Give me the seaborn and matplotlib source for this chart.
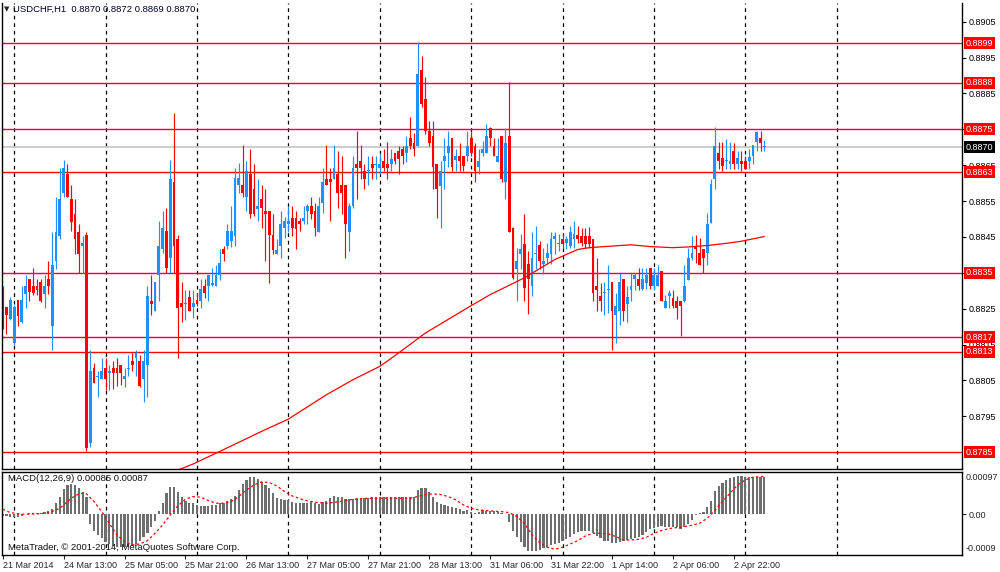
import numpy as np
import pandas as pd
import seaborn as sns
import matplotlib.pyplot as plt
from matplotlib.transforms import blended_transform_factory

# =====================================
# DATA
# =====================================

opens = [
    0.88257, 0.88255, 0.88221, 0.88154, 0.88273, 0.88214, 0.88292, 0.88333, 0.88313, 0.88313,
    0.88324, 0.88292, 0.88333, 0.88203, 0.88382, 0.88452, 0.88573, 0.88624, 0.88555, 0.88515,
    0.88464, 0.88424, 0.88454, 0.87875, 0.88084, 0.88060, 0.88054, 0.88084, 0.88070, 0.88084,
    0.88084, 0.88094, 0.88054, 0.88082, 0.88103, 0.88112, 0.88103, 0.88054, 0.88094, 0.88272,
    0.88243, 0.88345, 0.88415, 0.88466, 0.88392, 0.88603, 0.88443, 0.88266, 0.88264, 0.88283,
    0.88255, 0.88273, 0.88271, 0.88313, 0.88313, 0.88317, 0.88313, 0.88345, 0.88415, 0.88424,
    0.88438, 0.88452, 0.88594, 0.88594, 0.88562, 0.88624, 0.88584, 0.88527, 0.88555, 0.88522,
    0.88522, 0.88454, 0.88401, 0.88424, 0.88476, 0.88485, 0.88503, 0.88503, 0.88494, 0.88494,
    0.88522, 0.88536, 0.88522, 0.88463, 0.88545, 0.88612, 0.88612, 0.88612, 0.88624, 0.88594,
    0.88594, 0.88463, 0.88536, 0.88652, 0.88662, 0.88634, 0.88634, 0.88652, 0.88651, 0.88643,
    0.88662, 0.88652, 0.88652, 0.88685, 0.88690, 0.88695, 0.88685, 0.88726, 0.88713, 0.88704,
    0.88914, 0.88834, 0.88746, 0.88732, 0.88653, 0.88592, 0.88662, 0.88685, 0.88726, 0.88664,
    0.88676, 0.88676, 0.88676, 0.88726, 0.88704, 0.88644, 0.88685, 0.88685, 0.88753, 0.88704,
    0.88658, 0.88732, 0.88602, 0.88732, 0.88474, 0.88360, 0.88402, 0.88431, 0.88374, 0.88313,
    0.88402, 0.88427, 0.88374, 0.88392, 0.88402, 0.88443, 0.88429, 0.88443, 0.88434, 0.88425,
    0.88443, 0.88455, 0.88453, 0.88453, 0.88452, 0.88443, 0.88313, 0.88285, 0.88294, 0.88303,
    0.88324, 0.88233, 0.88243, 0.88333, 0.88264, 0.88303, 0.88333, 0.88333, 0.88305, 0.88322,
    0.88364, 0.88313, 0.88313, 0.88354, 0.88252, 0.88285, 0.88280, 0.88271, 0.88271, 0.88271,
    0.88331, 0.88392, 0.88424, 0.88406, 0.88415, 0.88406, 0.88489, 0.88610, 0.88685, 0.88671,
    0.88662, 0.88652, 0.88690, 0.88652, 0.88662, 0.88662, 0.88662, 0.88676, 0.88715, 0.88727,
    0.88700,
]
highs = [
    0.88313, 0.88255, 0.88283, 0.88261, 0.88273, 0.88313, 0.88345, 0.88333, 0.88363, 0.88333,
    0.88333, 0.88345, 0.88384, 0.88464, 0.88562, 0.88643, 0.88664, 0.88654, 0.88594, 0.88555,
    0.88485, 0.88452, 0.88464, 0.88134, 0.88098, 0.88075, 0.88112, 0.88112, 0.88094, 0.88103,
    0.88112, 0.88094, 0.88084, 0.88122, 0.88126, 0.88134, 0.88122, 0.88134, 0.88313, 0.88345,
    0.88324, 0.88494, 0.88522, 0.88531, 0.88664, 0.88795, 0.88454, 0.88324, 0.88303, 0.88303,
    0.88303, 0.88294, 0.88333, 0.88333, 0.88345, 0.88364, 0.88373, 0.88415, 0.88424, 0.88485,
    0.88536, 0.88643, 0.88657, 0.88705, 0.88662, 0.88694, 0.88652, 0.88612, 0.88594, 0.88584,
    0.88522, 0.88515, 0.88443, 0.88522, 0.88506, 0.88536, 0.88536, 0.88522, 0.88503, 0.88536,
    0.88543, 0.88562, 0.88545, 0.88562, 0.88643, 0.88705, 0.88643, 0.88705, 0.88690, 0.88676,
    0.88594, 0.88545, 0.88676, 0.88745, 0.88705, 0.88652, 0.88676, 0.88676, 0.88676, 0.88685,
    0.88694, 0.88715, 0.88694, 0.88685, 0.88704, 0.88704, 0.88732, 0.88783, 0.88741, 0.88993,
    0.88955, 0.88895, 0.88772, 0.88772, 0.88653, 0.88662, 0.88726, 0.88746, 0.88726, 0.88695,
    0.88713, 0.88676, 0.88746, 0.88746, 0.88713, 0.88695, 0.88716, 0.88765, 0.88755, 0.88726,
    0.88726, 0.88732, 0.88753, 0.88881, 0.88478, 0.88420, 0.88457, 0.88513, 0.88411, 0.88465,
    0.88481, 0.88439, 0.88420, 0.88434, 0.88465, 0.88465, 0.88457, 0.88457, 0.88453, 0.88481,
    0.88495, 0.88481, 0.88476, 0.88476, 0.88478, 0.88443, 0.88392, 0.88322, 0.88324, 0.88373,
    0.88324, 0.88294, 0.88350, 0.88333, 0.88313, 0.88350, 0.88350, 0.88364, 0.88364, 0.88364,
    0.88364, 0.88364, 0.88373, 0.88354, 0.88289, 0.88303, 0.88303, 0.88285, 0.88271, 0.88373,
    0.88420, 0.88452, 0.88454, 0.88448, 0.88415, 0.88517, 0.88612, 0.88755, 0.88715, 0.88715,
    0.88724, 0.88715, 0.88713, 0.88690, 0.88690, 0.88676, 0.88694, 0.88705, 0.88745, 0.88745,
    0.88720,
]
lows = [
    0.88192, 0.88178, 0.88219, 0.88150, 0.88203, 0.88210, 0.88252, 0.88271, 0.88289, 0.88289,
    0.88268, 0.88252, 0.88292, 0.88134, 0.88361, 0.88443, 0.88562, 0.88562, 0.88466, 0.88401,
    0.88350, 0.88350, 0.87852, 0.87864, 0.88043, 0.88004, 0.88054, 0.88024, 0.88024, 0.88026,
    0.88033, 0.88038, 0.88031, 0.88061, 0.88075, 0.88061, 0.88031, 0.87991, 0.88004, 0.88233,
    0.88243, 0.88271, 0.88404, 0.88350, 0.88350, 0.88350, 0.88112, 0.88212, 0.88219, 0.88243,
    0.88224, 0.88257, 0.88252, 0.88280, 0.88271, 0.88313, 0.88313, 0.88331, 0.88382, 0.88415,
    0.88422, 0.88424, 0.88573, 0.88562, 0.88522, 0.88503, 0.88508, 0.88494, 0.88476, 0.88382,
    0.88322, 0.88401, 0.88401, 0.88392, 0.88448, 0.88464, 0.88452, 0.88415, 0.88466, 0.88485,
    0.88485, 0.88499, 0.88452, 0.88463, 0.88517, 0.88594, 0.88494, 0.88612, 0.88531, 0.88515,
    0.88392, 0.88410, 0.88531, 0.88555, 0.88612, 0.88583, 0.88594, 0.88612, 0.88612, 0.88624,
    0.88634, 0.88612, 0.88634, 0.88653, 0.88625, 0.88653, 0.88658, 0.88695, 0.88676, 0.88704,
    0.88811, 0.88737, 0.88704, 0.88583, 0.88504, 0.88476, 0.88583, 0.88644, 0.88634, 0.88634,
    0.88634, 0.88634, 0.88662, 0.88676, 0.88602, 0.88625, 0.88676, 0.88683, 0.88704, 0.88676,
    0.88658, 0.88602, 0.88555, 0.88465, 0.88332, 0.88271, 0.88360, 0.88271, 0.88234, 0.88285,
    0.88360, 0.88360, 0.88346, 0.88374, 0.88374, 0.88402, 0.88411, 0.88420, 0.88416, 0.88420,
    0.88420, 0.88434, 0.88425, 0.88420, 0.88420, 0.88271, 0.88243, 0.88243, 0.88233, 0.88238,
    0.88134, 0.88154, 0.88205, 0.88215, 0.88212, 0.88271, 0.88303, 0.88303, 0.88303, 0.88305,
    0.88305, 0.88303, 0.88313, 0.88271, 0.88252, 0.88252, 0.88252, 0.88220, 0.88175, 0.88268,
    0.88331, 0.88385, 0.88378, 0.88373, 0.88350, 0.88373, 0.88489, 0.88583, 0.88638, 0.88634,
    0.88640, 0.88640, 0.88640, 0.88640, 0.88634, 0.88640, 0.88640, 0.88652, 0.88690, 0.88690,
    0.88690,
]
closes = [
    0.88233, 0.88233, 0.88273, 0.88255, 0.88229, 0.88273, 0.88313, 0.88296, 0.88294, 0.88303,
    0.88271, 0.88313, 0.88313, 0.88373, 0.88464, 0.88555, 0.88643, 0.88562, 0.88491, 0.88443,
    0.88401, 0.88432, 0.87861, 0.88075, 0.88043, 0.88063, 0.88075, 0.88054, 0.88075, 0.88070,
    0.88070, 0.88070, 0.88063, 0.88084, 0.88094, 0.88125, 0.88033, 0.88103, 0.88285, 0.88264,
    0.88324, 0.88424, 0.88476, 0.88364, 0.88612, 0.88424, 0.88252, 0.88255, 0.88266, 0.88243,
    0.88266, 0.88264, 0.88305, 0.88294, 0.88345, 0.88322, 0.88345, 0.88378, 0.88401, 0.88466,
    0.88466, 0.88615, 0.88615, 0.88573, 0.88634, 0.88513, 0.88515, 0.88536, 0.88531, 0.88515,
    0.88454, 0.88413, 0.88413, 0.88485, 0.88494, 0.88494, 0.88476, 0.88473, 0.88485, 0.88503,
    0.88536, 0.88515, 0.88476, 0.88536, 0.88603, 0.88594, 0.88603, 0.88643, 0.88573, 0.88573,
    0.88485, 0.88536, 0.88643, 0.88643, 0.88643, 0.88612, 0.88636, 0.88643, 0.88652, 0.88652,
    0.88643, 0.88643, 0.88666, 0.88662, 0.88667, 0.88676, 0.88704, 0.88704, 0.88695, 0.88904,
    0.88820, 0.88746, 0.88713, 0.88644, 0.88583, 0.88634, 0.88676, 0.88704, 0.88644, 0.88676,
    0.88662, 0.88648, 0.88704, 0.88685, 0.88634, 0.88662, 0.88695, 0.88732, 0.88726, 0.88676,
    0.88676, 0.88611, 0.88713, 0.88465, 0.88336, 0.88383, 0.88416, 0.88308, 0.88332, 0.88392,
    0.88406, 0.88383, 0.88383, 0.88406, 0.88443, 0.88453, 0.88434, 0.88429, 0.88443, 0.88465,
    0.88457, 0.88443, 0.88434, 0.88429, 0.88429, 0.88294, 0.88303, 0.88271, 0.88296, 0.88305,
    0.88243, 0.88257, 0.88324, 0.88243, 0.88283, 0.88313, 0.88345, 0.88313, 0.88333, 0.88345,
    0.88313, 0.88345, 0.88345, 0.88271, 0.88271, 0.88294, 0.88257, 0.88252, 0.88257, 0.88313,
    0.88392, 0.88406, 0.88415, 0.88373, 0.88392, 0.88485, 0.88597, 0.88704, 0.88662, 0.88648,
    0.88663, 0.88662, 0.88652, 0.88671, 0.88652, 0.88640, 0.88674, 0.88705, 0.88743, 0.88713,
    0.88702,
]

# moving average, read at a few bars
ma_bar = [46, 50, 57, 68, 75, 85, 92, 99, 103, 111, 122, 128, 137, 145, 151,
          154, 158, 165, 170, 176, 180, 185, 190, 194, 200]
ma_val = [0.87800, 0.87817, 0.87852, 0.87908, 0.87942, 0.88010, 0.88052, 0.88089,
          0.88119, 0.88182, 0.88252, 0.88289, 0.88336, 0.88387, 0.88415, 0.88420,
          0.88423, 0.88428, 0.88423, 0.88420, 0.88422, 0.88426, 0.88432, 0.88438,
          0.88451]

# MACD main (x 1e-5)
macd_main = [
    -3.8, -3.8, -5.4, -6.9, -6.1, -3.8, 0.5, 2.3, 2.3, 3.1,
    3.8, 4.6, 7.7, 11.5, 25.3, 40.6, 58.2, 67.4, 69.7, 67.4,
    59.7, 52.1, 40.6, -22.2, -37.5, -47.5, -55.2, -62.8, -68.2, -72.8,
    -75.8, -75.8, -75.8, -74.3, -72.8, -68.2, -60.5, -51.3, -42.1, -29.9,
    -14.6, 8.4, 26.8, 48.3, 63.6, 63.6, 52.1, 40.6, 31.4, 26.8,
    25.3, 21.4, 19.2, 19.2, 19.2, 20.7, 22.2, 25.3, 26.8, 31.4,
    36.0, 42.1, 55.9, 69.7, 78.9, 85.0, 85.0, 80.4, 75.1, 67.4,
    59.7, 48.3, 36.8, 34.5, 32.9, 32.9, 29.1, 26.8, 25.3, 25.3,
    26.8, 29.1, 25.3, 23.7, 29.1, 31.4, 36.8, 42.1, 40.6, 39.1,
    34.5, 34.5, 36.0, 36.8, 36.8, 36.8, 37.5, 39.1, 39.1, 39.1,
    39.1, 39.1, 39.1, 39.1, 39.1, 39.1, 39.1, 39.1, 40.6, 55.9,
    59.7, 59.7, 52.1, 40.6, 29.1, 23.0, 21.4, 19.9, 17.6, 13.8,
    11.5, 8.4, 10.0, 6.1, 3.8, 6.1, 10.0, 8.4, 8.4, 6.9,
    5.4, 2.3, 1.0, -16.9, -38.3, -51.3, -62.8, -75.8, -83.5, -83.5,
    -84.3, -82.0, -78.1, -74.3, -70.5, -68.2, -65.1, -60.5, -57.5, -51.3,
    -45.2, -40.6, -38.3, -37.5, -37.5, -42.1, -49.8, -55.2, -60.5, -60.5,
    -65.1, -65.1, -62.8, -60.5, -59.0, -57.5, -55.2, -51.3, -46.7, -40.6,
    -34.5, -31.4, -28.3, -26.8, -29.9, -29.9, -29.9, -29.9, -34.5, -28.3,
    -22.2, -13.0, -2.3, 2.3, 5.4, 16.1, 31.4, 54.4, 65.1, 71.2,
    78.9, 82.7, 86.6, 88.1, 88.1, 85.0, 85.0, 85.0, 86.6, 86.6,
    85.0,
]

# MACD signal (x 1e-5), read at a few bars
sig_bar = [0, 2, 5, 9, 12, 15, 18, 20, 21, 22, 24, 26, 28, 30, 32, 34, 36, 38, 40,
           42, 44, 46, 48, 50, 52, 54, 56, 58, 60, 62, 64, 66, 68, 70, 72, 74, 76,
           79, 82, 85, 88, 91, 94, 97, 100, 103, 107, 109, 111, 113, 115, 117, 119,
           121, 123, 125, 128, 131, 133, 135, 137, 139, 141, 143, 145, 147, 149,
           151, 153, 155, 157, 159, 161, 163, 165, 167, 169, 171, 173, 175, 177,
           179, 181, 183, 185, 187, 189, 191, 193, 195, 197, 200]
sig_val = [11.5, 3.8, 0.0, 0.8, 3.1, 13.8, 36.8, 46.7, 48.3, 46.7, 29.1, 6.1, -20.7,
           -47.5, -62.8, -70.5, -68.2, -60.5, -43.7, -24.5, -1.5, 19.2, 34.5, 40.6,
           39.1, 31.4, 25.3, 25.3, 29.1, 40.6, 55.9, 67.4, 74.3, 72.8, 65.1, 52.1,
           42.1, 32.9, 27.6, 25.3, 28.3, 32.9, 36.0, 36.8, 36.8, 36.8, 36.8, 40.6,
           45.2, 46.7, 45.2, 40.6, 32.9, 21.4, 13.8, 10.0, 7.7, 6.1, 3.8, -5.4,
           -20.7, -47.5, -65.1, -75.8, -80.4, -75.8, -68.2, -60.5, -49.8, -43.7,
           -43.7, -45.2, -51.3, -59.0, -59.0, -57.5, -52.9, -43.7, -37.5, -32.9,
           -30.6, -28.3, -25.3, -20.7, -9.2, 8.4, 29.1, 48.3, 67.4, 78.9, 85.0, 87.0]

levels = [0.8899, 0.8888, 0.8875, 0.8863, 0.8835, 0.8817, 0.8813, 0.8785]
bid = 0.8870
price_ticks = [0.8905, 0.8895, 0.8885, 0.8875, 0.8865, 0.8855, 0.8845,
               0.8835, 0.8825, 0.8815, 0.8805, 0.8795]
# labels at 0.8875 and 0.8835 sit fully under the red level boxes
price_tick_labels = ["0.8905", "0.8895", "0.8885", "", "0.8865", "0.8855", "0.8845",
                     "", "0.8825", "0.8815", "0.8805", "0.8795"]
day_starts = [3, 27, 51, 75, 99, 123, 147, 171, 195, 219]
time_ticks = [0, 16, 32, 48, 64, 80, 96, 112, 128, 144, 160, 176, 192]
time_labels = ["21 Mar 2014", "24 Mar 13:00", "25 Mar 05:00", "25 Mar 21:00",
               "26 Mar 13:00", "27 Mar 05:00", "27 Mar 21:00", "28 Mar 13:00",
               "31 Mar 06:00", "31 Mar 22:00", "1 Apr 14:00", "2 Apr 06:00",
               "2 Apr 22:00"]

# =====================================
# STYLE
# =====================================

sns.set_style("white")
plt.rcParams['font.family'] = ['Liberation Sans', 'DejaVu Sans']

BULL = '#1e90ff'
BEAR = '#ff0000'

df = pd.DataFrame({'open': opens, 'high': highs, 'low': lows, 'close': closes})
df['bar'] = np.arange(len(df))
df['color'] = np.where(df['close'] >= df['open'], BULL, BEAR)
df['body_lo'] = df[['open', 'close']].min(axis=1)
df['body_h'] = (df['close'] - df['open']).abs().clip(lower=0.000025)

fig = plt.figure(figsize=(10, 5.72), dpi=100)
H = 572.0
ax = fig.add_axes([0.002, 1 - 469 / H, 0.960, 466 / H])
ax2 = fig.add_axes([0.002, 1 - 555 / H, 0.960, 83 / H])

XMIN, XMAX = -0.18, 251.9

# =====================================
# PRICE PANEL
# =====================================

for d in day_starts:
    ax.axvline(d, color='black', lw=0.9, ls=(0, (3, 3)), zorder=1)

for p in levels:
    ax.axhline(p, color='red', lw=1.0, zorder=1.5)
ax.axhline(bid, color='#c8c8c8', lw=1.3, zorder=1.4)

ax.vlines(df['bar'], df['low'], df['high'], colors=df['color'], lw=0.85, zorder=2)
ax.bar(df['bar'], df['body_h'], bottom=df['body_lo'], width=0.74,
       color=df['color'], linewidth=0, zorder=2.1)

sns.lineplot(x=ma_bar, y=ma_val, ax=ax, color='red', linewidth=0.9, zorder=2.2)

ax.set_xlim(XMIN, XMAX)
ax.set_ylim(0.87803, 0.89102)
ax.set_xticks([])
ax.yaxis.tick_right()
ax.set_yticks(price_ticks)
ax.set_yticklabels(price_tick_labels)
ax.tick_params(axis='y', which='both', direction='out', length=3, width=0.8,
               pad=2, labelsize=6.5, colors='black', right=True, left=False)
ax.set_xlabel('')
ax.set_ylabel('')
for side in ['left', 'right', 'bottom']:
    ax.spines[side].set_color('black')
    ax.spines[side].set_linewidth(1.0)
ax.spines['top'].set_visible(False)

tr = blended_transform_factory(ax.transAxes, ax.transData)
for p in levels:
    ax.text(1.004, p, f"{p:.4f}", transform=tr, color='white', fontsize=6.5,
            va='center', ha='left', zorder=5,
            bbox=dict(boxstyle='square,pad=0.18', fc='red', ec='none'))
ax.text(1.004, bid, f"{bid:.4f}", transform=tr, color='white', fontsize=6.5,
        va='center', ha='left', zorder=5,
        bbox=dict(boxstyle='square,pad=0.18', fc='black', ec='none'))

fig.text(0.004, 1 - 9 / H, '\u25bc', fontsize=5, va='center', ha='left',
         family=['DejaVu Sans'])
fig.text(0.013, 1 - 9 / H, 'USDCHF,H1  0.8870 0.8872 0.8869 0.8870',
         fontsize=6.8, va='center', ha='left', color='#000030')

# =====================================
# MACD PANEL
# =====================================

for d in day_starts:
    ax2.axvline(d, color='black', lw=0.9, ls=(0, (3, 3)), zorder=1)

ax2.bar(df['bar'], np.array(macd_main) * 1e-5, width=0.58, color='#6e6e6e',
        linewidth=0, zorder=2)
sns.lineplot(x=sig_bar, y=np.array(sig_val) * 1e-5, ax=ax2, color='red',
             linewidth=0.9, linestyle=(0, (2, 2)), zorder=3)

ax2.set_xlim(XMIN, XMAX)
ax2.set_ylim(-0.000935, 0.00097)
ax2.set_yticks([0.0])
ax2.set_yticklabels(['0.00'])
ax2.yaxis.tick_right()
ax2.tick_params(axis='y', direction='out', length=3, width=0.8, pad=2,
                labelsize=6.5, right=True, left=False)
ax2.set_xticks(time_ticks)
ax2.set_xticklabels(time_labels)
ax2.tick_params(axis='x', direction='out', length=3, width=0.8, pad=1.5,
                labelsize=6.5, bottom=True)
for lbl in ax2.get_xticklabels():
    lbl.set_ha('left')
ax2.set_xlabel('')
ax2.set_ylabel('')
for side in ['left', 'right', 'bottom', 'top']:
    ax2.spines[side].set_color('black')
    ax2.spines[side].set_linewidth(1.0)

ax2.text(1.004, 0.93, '0.00097', transform=ax2.transAxes, fontsize=6.5,
         va='center', ha='left')
ax2.text(1.004, 0.08, '-0.0009', transform=ax2.transAxes, fontsize=6.5,
         va='center', ha='left')
ax2.text(0.006, 0.92, 'MACD(12,26,9) 0.00085 0.00087', transform=ax2.transAxes,
         fontsize=6.8, va='center', ha='left', color='#101010', zorder=4)
ax2.text(0.006, 0.09, 'MetaTrader, \u00a9 2001-2014, MetaQuotes Software Corp.',
         transform=ax2.transAxes, fontsize=6.8, va='center', ha='left',
         color='#101010', zorder=4)

fig.savefig('out.png', dpi=100)
